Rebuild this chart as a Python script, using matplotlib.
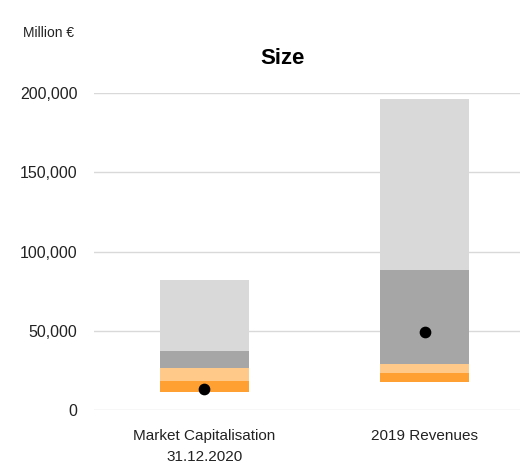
import numpy as np
import matplotlib.pyplot as plt
from matplotlib.ticker import FuncFormatter

plt.rcParams['font.family'] = ['Liberation Sans', 'DejaVu Sans']

# data (million EUR)
categories = ["Market Capitalisation\n31.12.2020", "2019 Revenues"]
bottom_vals = [11400, 17700]      # lowest value
q1_vals = [18300, 23300]          # orange / light orange boundary
median_vals = [26500, 29000]      # light orange / dark grey boundary
q3_vals = [37200, 88300]          # dark grey / light grey boundary
top_vals = [82000, 196200]        # highest value
point_vals = [13200, 49400]       # black dot

colors = ["#FFA032", "#FFC98A", "#A6A6A6", "#D9D9D9"]

fig = plt.figure(figsize=(5.30, 4.63), dpi=100)
ax = fig.add_axes([94 / 530, 53 / 463, 426 / 530, 317 / 463])

x = np.arange(len(categories))
width = 0.405
levels = [bottom_vals, q1_vals, median_vals, q3_vals, top_vals]
for i, c in enumerate(colors):
    lo = np.array(levels[i])
    hi = np.array(levels[i + 1])
    ax.bar(x, hi - lo, bottom=lo, width=width, color=c, zorder=2)

ax.scatter(x, point_vals, s=55, color="black", zorder=3)

ax.set_xlim(-0.502, 1.434)
ax.set_ylim(0, 200000)
ax.set_yticks([0, 50000, 100000, 150000, 200000])
ax.yaxis.set_major_formatter(FuncFormatter(lambda v, p: f"{int(v):,}"))
ax.grid(axis="y", color="#D9D9D9", linewidth=1, zorder=0)
ax.set_axisbelow(True)
for s in ax.spines.values():
    s.set_visible(False)
ax.tick_params(axis="both", length=0, labelsize=11.5, colors="#222222")
ax.tick_params(axis="y", pad=12)
ax.set_xticks(x)
ax.set_xticklabels(categories, fontsize=11, linespacing=1.6, va="top")
ax.tick_params(axis="x", pad=14)

fig.text(283 / 530, 1 - 58 / 463, "Size", ha="center", va="center",
         fontsize=16, fontweight="bold")
fig.text(23 / 530, 1 - 33 / 463, "Million €", ha="left", va="center",
         fontsize=10, color="#222222")

fig.savefig("out.png", dpi=100)
